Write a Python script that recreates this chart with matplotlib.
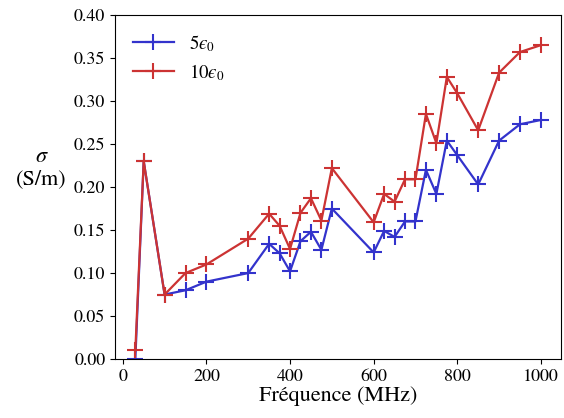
"""Conductivite en fonction de la frequence pour deux permittivites."""

import matplotlib

matplotlib.use("Agg")
import matplotlib.pyplot as plt
from matplotlib.ticker import FormatStrFormatter

plt.rcParams["font.family"] = ["STIXGeneral", "DejaVu Serif"]
plt.rcParams["mathtext.fontset"] = "stix"

frequences = [30, 50, 100, 150, 200, 300, 350, 375, 400, 425, 450, 475, 500,
              600, 625, 650, 675, 700, 725, 750, 775, 800, 850, 900, 950, 1000]
sigma_5eps = [0.0, 0.23, 0.075, 0.08, 0.09, 0.10, 0.134, 0.123, 0.102, 0.137,
              0.148, 0.127, 0.175, 0.124, 0.149, 0.142, 0.160, 0.160, 0.220,
              0.192, 0.254, 0.237, 0.203, 0.254, 0.273, 0.278]
sigma_10eps = [0.01, 0.23, 0.075, 0.10, 0.11, 0.14, 0.169, 0.155, 0.128, 0.170,
               0.187, 0.161, 0.222, 0.159, 0.192, 0.183, 0.209, 0.209, 0.285,
               0.251, 0.328, 0.309, 0.266, 0.333, 0.357, 0.365]
noms_series = ["$5\u03f5_0$", "$10\u03f5_0$"]

fig = plt.figure(figsize=(5.64, 4.18), dpi=100)
ax = fig.add_axes([0.204, 0.141, 0.791, 0.823])

style = dict(marker="+", markersize=12, markeredgewidth=1.5, linewidth=1.6)
ax.plot(frequences, sigma_5eps, color="#3333cc", label=noms_series[0], **style)
ax.plot(frequences, sigma_10eps, color="#cc3333", label=noms_series[1], **style)

ax.set_ylim(0, 0.40)
ax.set_xticks(range(0, 1001, 200))
ax.set_yticks([i * 0.05 for i in range(9)])
ax.yaxis.set_major_formatter(FormatStrFormatter("%.2f"))
ax.tick_params(labelsize=13)

ax.set_xlabel("Fréquence (MHz)", fontsize=16, labelpad=1)
ax.set_ylabel("$\\sigma$\n(S/m)", fontsize=16, rotation=0, ha="center", va="center")
ax.yaxis.set_label_coords(-0.165, 0.555)

ax.legend(loc="upper left", frameon=False, fontsize=13.5, handlelength=2.2,
          handletextpad=0.8, borderaxespad=0.55, labelspacing=0.45)

fig.savefig("out.png", dpi=100)
plt.close(fig)
